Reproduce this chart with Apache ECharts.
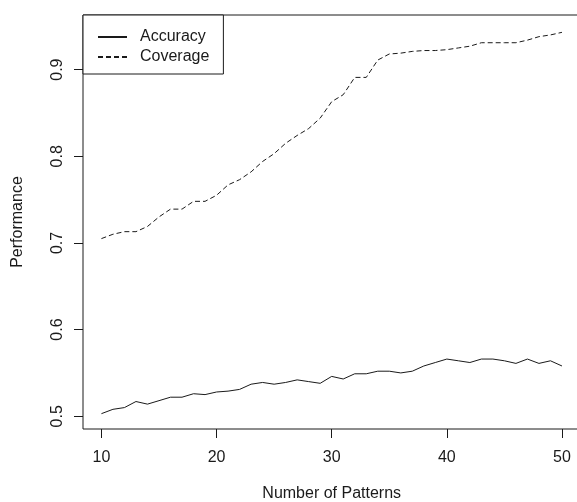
<!DOCTYPE html>
<html>
<head>
<meta charset="utf-8">
<script src="https://cdn.jsdelivr.net/npm/echarts@6/dist/echarts.min.js"></script>
<style>
  html, body { margin: 0; padding: 0; background: #fff; }
  #chart { width: 577px; height: 502px; }
</style>
</head>
<body>
<div id="chart"></div>
<script>
// number of patterns on the x axis
const patterns = [10, 11, 12, 13, 14, 15, 16, 17, 18, 19, 20, 21, 22, 23, 24, 25, 26, 27, 28, 29,
  30, 31, 32, 33, 34, 35, 36, 37, 38, 39, 40, 41, 42, 43, 44, 45, 46, 47, 48, 49, 50];

const accuracy = [0.503, 0.508, 0.510, 0.517, 0.514, 0.518, 0.522, 0.522, 0.526, 0.525,
  0.528, 0.529, 0.531, 0.537, 0.539, 0.537, 0.539, 0.542, 0.540, 0.538,
  0.546, 0.543, 0.549, 0.549, 0.552, 0.552, 0.550, 0.552, 0.558, 0.562,
  0.566, 0.564, 0.562, 0.566, 0.566, 0.564, 0.561, 0.566, 0.561, 0.564, 0.558];

const coverage = [0.705, 0.710, 0.713, 0.713, 0.719, 0.730, 0.739, 0.739, 0.748, 0.748,
  0.755, 0.767, 0.773, 0.782, 0.794, 0.803, 0.815, 0.824, 0.832, 0.844,
  0.863, 0.871, 0.891, 0.891, 0.911, 0.918, 0.919, 0.921, 0.922, 0.922,
  0.923, 0.925, 0.927, 0.931, 0.931, 0.931, 0.931, 0.934, 0.938, 0.940, 0.943];

const xTicks = [10, 20, 30, 40, 50];
const yTicks = [0.5, 0.6, 0.7, 0.8, 0.9];

const FONT = 'Liberation Sans, Arial, sans-serif';
const INK = '#1a1a1a';

const chart = echarts.init(document.getElementById('chart'));

const toPairs = (vals) => patterns.map((p, i) => [p, vals[i]]);

const option = {
  animation: false,
  backgroundColor: '#fff',
  textStyle: { fontFamily: FONT, color: INK },
  grid: {
    left: 83,
    top: 15,
    width: 497.4,   // right edge of the box falls just outside the canvas
    height: 414,
    outerBoundsMode: 'none',
    show: true,
    borderColor: INK,
    borderWidth: 1,
    backgroundColor: 'transparent'
  },
  legend: {
    orient: 'vertical',
    left: 83,
    top: 15,
    padding: [14, 14, 9, 14],
    itemWidth: 29,
    itemHeight: 14,
    itemGap: 4,
    borderColor: INK,
    borderWidth: 1,
    borderRadius: 0,
    backgroundColor: '#fff',
    itemStyle: { opacity: 0 },
    textStyle: { fontFamily: FONT, fontSize: 16, color: INK, padding: [0, 0, 0, 8] },
    data: ['Accuracy', 'Coverage']
  },
  xAxis: {
    type: 'value',
    min: 8.4,
    max: 51.6,
    name: 'Number of Patterns',
    nameLocation: 'middle',
    nameGap: 57,
    nameTextStyle: { fontFamily: FONT, fontSize: 16, color: INK },
    axisLine: { show: false },
    axisTick: { show: true, length: 9, customValues: xTicks, lineStyle: { color: INK } },
    axisLabel: { customValues: xTicks, margin: 21, fontFamily: FONT, fontSize: 16, color: INK },
    splitLine: { show: false }
  },
  yAxis: {
    type: 'value',
    min: 0.4853,
    max: 0.963,
    name: 'Performance',
    nameLocation: 'middle',
    nameGap: 57,
    nameRotate: 90,
    nameTextStyle: { fontFamily: FONT, fontSize: 16, color: INK },
    axisLine: { show: false },
    axisTick: { show: true, length: 9, customValues: yTicks, lineStyle: { color: INK } },
    axisLabel: {
      customValues: yTicks,
      rotate: 90,
      margin: 17,
      fontFamily: FONT,
      fontSize: 16,
      color: INK,
      formatter: (v) => v.toFixed(1)
    },
    splitLine: { show: false }
  },
  series: [
    {
      name: 'Accuracy',
      type: 'line',
      symbol: 'none',
      data: toPairs(accuracy),
      lineStyle: { color: INK, width: 1, type: 'solid' },
      itemStyle: { color: INK }
    },
    {
      name: 'Coverage',
      type: 'line',
      symbol: 'none',
      data: toPairs(coverage),
      lineStyle: { color: INK, width: 1, type: [5, 3] },
      itemStyle: { color: INK }
    }
  ]
};

chart.setOption(option);
</script>
</body>
</html>
